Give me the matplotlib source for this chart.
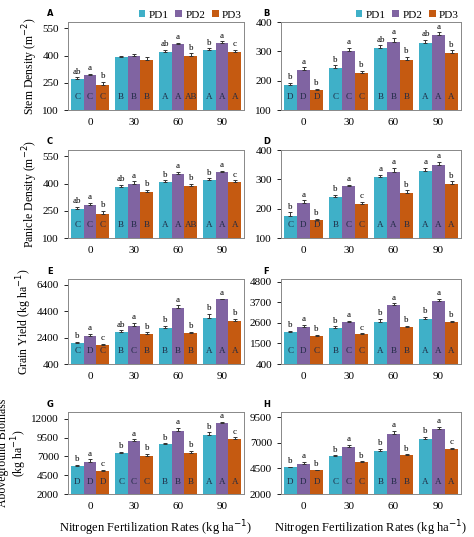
import matplotlib
matplotlib.use("Agg")
import matplotlib.pyplot as plt
import numpy as np

plt.rcParams['font.family'] = ['Liberation Serif', 'DejaVu Serif']

rates = ["0", "30", "60", "90"]
series = ["PD1", "PD2", "PD3"]
colors = ["#3fb0c8", "#8064a2", "#c55a11"]

A_vals = [[270, 390, 420, 430], [295, 400, 462, 470], [240, 375, 400, 420]]
A_err = [[10, 10, 12, 10], [6, 8, 8, 8], [15, 15, 12, 10]]
A_top = [["ab", "", "ab", "b"], ["a", "", "a", "a"], ["b", "", "b", "c"]]
A_bot = [["C", "B", "A", "A"], ["C", "B", "A", "A"], ["C", "B", "AB", "A"]]

B_vals = [[185, 242, 310, 330], [235, 300, 333, 355], [167, 227, 270, 295]]
B_err = [[8, 10, 10, 8], [10, 12, 12, 10], [6, 6, 10, 8]]
B_top = [["b", "b", "ab", "ab"], ["a", "a", "a", "a"], ["b", "b", "b", "b"]]
B_bot = [["D", "C", "B", "A"], ["D", "C", "B", "A"], ["D", "C", "B", "A"]]

C_vals = [[260, 380, 410, 420], [280, 400, 455, 465], [235, 355, 385, 410]]
C_err = [[10, 12, 8, 8], [12, 12, 10, 5], [15, 12, 15, 8]]
C_top = [["ab", "ab", "b", "b"], ["a", "a", "a", "a"], ["b", "b", "b", "c"]]
C_bot = [["C", "B", "A", "A"], ["C", "B", "A", "A"], ["C", "B", "AB", "A"]]

D_vals = [[175, 240, 307, 328], [218, 277, 325, 350], [160, 215, 254, 285]]
D_err = [[12, 8, 8, 10], [10, 5, 15, 10], [6, 8, 8, 8]]
D_top = [["b", "b", "a", "a"], ["a", "a", "a", "a"], ["b", "c", "b", "b"]]
D_bot = [["C", "B", "A", "A"], ["D", "C", "A", "A"], ["D", "C", "B", "A"]]

E_vals = [[2000, 2800, 3100, 3900], [2550, 3300, 4650, 5300], [1850, 2650, 2750, 3700]]
E_err = [[80, 150, 200, 300], [150, 200, 200, 60], [80, 150, 100, 150]]
E_top = [["b", "ab", "b", "b"], ["a", "a", "a", "a"], ["c", "b", "b", "b"]]
E_bot = [["C", "B", "B", "A"], ["D", "C", "B", "A"], ["C", "B", "B", "A"]]

F_vals = [[2100, 2350, 2650, 2800], [2400, 2650, 3550, 3750], [1900, 2000, 2400, 2650]]
F_err = [[80, 60, 150, 120], [100, 60, 100, 120], [50, 40, 50, 60]]
F_top = [["b", "b", "b", "b"], ["a", "a", "a", "a"], ["b", "c", "b", "b"]]
F_bot = [["C", "B", "A", "A"], ["D", "C", "B", "A"], ["C", "C", "B", "A"]]

G_vals = [[5700, 7400, 8600, 9900], [6300, 9100, 10400, 11500], [5000, 7100, 7500, 9300]]
G_err = [[150, 200, 150, 300], [300, 150, 400, 100], [200, 250, 200, 250]]
G_top = [["b", "b", "b", "b"], ["a", "a", "a", "a"], ["c", "b", "b", "c"]]
G_bot = [["D", "C", "B", "A"], ["D", "C", "B", "A"], ["D", "C", "B", "A"]]

H_vals = [[4600, 5700, 6200, 7400], [4950, 6600, 7900, 8300], [4300, 5100, 5800, 6400]]
H_err = [[60, 80, 200, 200], [200, 200, 250, 250], [60, 80, 80, 80]]
H_top = [["b", "b", "b", "b"], ["a", "a", "a", "a"], ["b", "b", "b", "c"]]
H_bot = [["D", "C", "B", "A"], ["D", "C", "B", "A"], ["D", "C", "B", "A"]]

panels = [
    ("A", A_vals, A_err, A_top, A_bot, [100, 250, 400, 550], (100, 585), "Stem Density (m$^{-2}$)"),
    ("B", B_vals, B_err, B_top, B_bot, [100, 200, 300, 400], (100, 400), None),
    ("C", C_vals, C_err, C_top, C_bot, [100, 250, 400, 550], (100, 585), "Panicle Density (m$^{-2}$)"),
    ("D", D_vals, D_err, D_top, D_bot, [100, 200, 300, 400], (100, 400), None),
    ("E", E_vals, E_err, E_top, E_bot, [400, 2400, 4400, 6400], (400, 6850), "Grain Yield (kg ha$^{-1}$)"),
    ("F", F_vals, F_err, F_top, F_bot, [400, 1500, 2600, 3700, 4800], (400, 4950), None),
    ("G", G_vals, G_err, G_top, G_bot, [2000, 4500, 7000, 9500, 12000], (2000, 12900), "Aboveground Biomass\n(kg ha$^{-1}$)"),
    ("H", H_vals, H_err, H_top, H_bot, [2000, 4500, 7000, 9500], (2000, 10000), None),
]

W, Hh = 474, 537
fig = plt.figure(figsize=(W / 100, Hh / 100), dpi=100)
cols_x = [(68, 244), (281, 461)]
rows_y = [(22, 110), (150, 238), (279, 364), (412, 494)]

x = np.arange(len(rates))
bw = 0.29
for i, (lab, vals, errs, tops, bots, ticks, ylim, ylab) in enumerate(panels):
    r, c = divmod(i, 2)
    x0, x1 = cols_x[c]
    y0, y1 = rows_y[r]
    ax = fig.add_axes([x0 / W, 1 - y1 / Hh, (x1 - x0) / W, (y1 - y0) / Hh])
    span = ylim[1] - ylim[0]
    for s in range(3):
        xs = x + (s - 1) * bw
        ax.bar(xs, vals[s], bw, bottom=0, color=colors[s], label=series[s], zorder=2)
        ax.errorbar(xs, vals[s], yerr=[np.zeros(4), errs[s]], fmt="none", ecolor="#333333",
                    elinewidth=0.7, capsize=1.5, capthick=0.7, zorder=3)
        for k in range(4):
            if tops[s][k]:
                ax.text(xs[k], vals[s][k] + errs[s][k] + span * 0.02, tops[s][k], ha="center",
                        va="bottom", fontsize=6.5)
            ax.text(xs[k], ylim[0] + span * 0.15, bots[s][k], ha="center", va="center",
                    fontsize=6.5, color="#1f2a44")
    ax.set_ylim(*ylim)
    ax.set_xlim(-0.5, 3.5)
    ax.set_yticks(ticks)
    ax.set_yticklabels([str(t) for t in ticks], fontsize=8)
    ax.set_xticks(x)
    ax.set_xticklabels(rates, fontsize=8)
    ax.tick_params(axis="x", length=0, pad=6)
    ax.tick_params(axis="y", length=3, width=0.6)
    for sp in ax.spines.values():
        sp.set_color("#888888")
        sp.set_linewidth(0.7)
    ax.text(-0.12 if c == 0 else -0.10, 1.04, lab, transform=ax.transAxes, fontsize=6,
            fontweight="bold", family="DejaVu Sans", ha="left", va="bottom")
    if ylab:
        ax.set_ylabel(ylab, fontsize=8.5, labelpad=2, linespacing=1.0)
    if r == 0:
        ax.legend(loc="lower right", bbox_to_anchor=(1.0, 1.0), ncol=3, frameon=False,
                  fontsize=8, handlelength=0.6, handleheight=0.6, columnspacing=0.6,
                  handletextpad=0.3, borderaxespad=0.1, borderpad=0.1)
    if r == 3:
        ax.set_xlabel("Nitrogen Fertilization Rates (kg ha$^{-1}$)", fontsize=9, labelpad=5)

fig.savefig("out.png", dpi=100)
